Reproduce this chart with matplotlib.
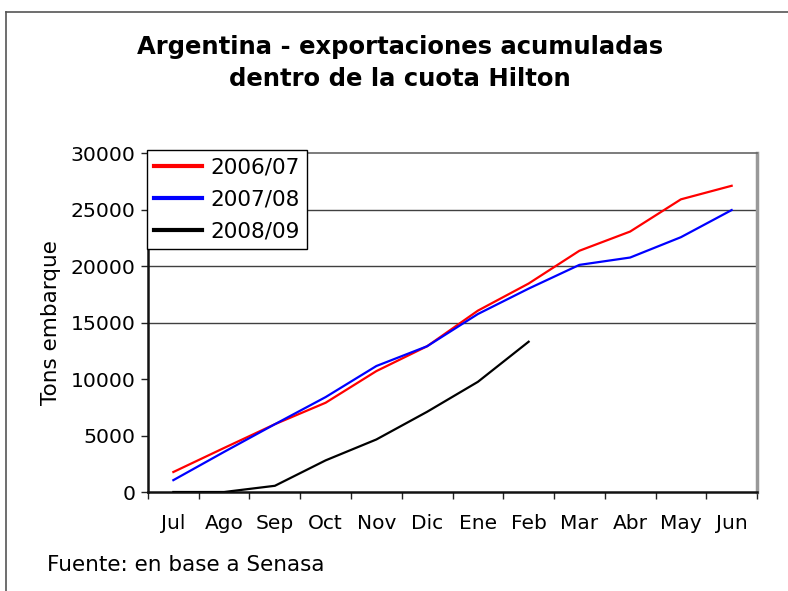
import numpy as np
import matplotlib.pyplot as plt
from matplotlib.lines import Line2D

months = ['Jul', 'Ago', 'Sep', 'Oct', 'Nov', 'Dic', 'Ene', 'Feb', 'Mar', 'Abr', 'May', 'Jun']
s0607 = [1770, 3900, 6000, 7900, 10700, 12900, 16050, 18450, 21350, 23050, 25900, 27100]
s0708 = [1050, 3550, 6000, 8400, 11150, 12900, 15750, 18000, 20100, 20750, 22550, 24950]
s0809 = [0, 0, 550, 2800, 4650, 7100, 9750, 13300]

fig = plt.figure(figsize=(7.88, 5.91), dpi=100)
ax = fig.add_axes([0.1878, 0.1675, 0.7729, 0.5736])

x = np.arange(len(months))
ax.plot(x, s0607, color='#ff0000', lw=1.6, label='2006/07', zorder=3)
ax.plot(x, s0708, color='#0000ff', lw=1.6, label='2007/08', zorder=3)
ax.plot(x[:len(s0809)], s0809, color='black', lw=1.6, label='2008/09', zorder=3)

ax.set_xlim(-0.5, len(months) - 0.5)
ax.set_ylim(0, 30000)
ax.set_yticks(range(0, 30001, 5000))
for g in [15000, 20000, 25000]:
    ax.axhline(g, color='#404040', lw=1, zorder=1)

ax.set_xticks(np.arange(-0.5, len(months)), labels=[''] * (len(months) + 1))
ax.set_xticks(x, labels=months, minor=True)
ax.tick_params(axis='x', which='minor', length=0, pad=16, labelsize=14.5)
ax.tick_params(axis='x', which='major', length=5, width=1, color='#222')
ax.tick_params(axis='y', length=5, width=1, color='#222', labelsize=14.7, pad=4)

ax.spines['left'].set_linewidth(1.8)
ax.spines['bottom'].set_linewidth(1.8)
ax.spines['left'].set_color('#111')
ax.spines['bottom'].set_color('#111')
ax.spines['right'].set_color('#999')
ax.spines['right'].set_linewidth(2.5)
ax.spines['top'].set_color('#666')
ax.spines['top'].set_linewidth(1.2)

ax.set_ylabel('Tons embarque', fontsize=15.5, labelpad=7)

leg = ax.legend(loc='upper left', bbox_to_anchor=(-0.002, 1.009), fontsize=15.5,
                frameon=True, fancybox=False, edgecolor='black', framealpha=1,
                borderpad=0.35, labelspacing=0.55, handlelength=2.2, handletextpad=0.4,
                borderaxespad=0)
leg.get_frame().set_linewidth(1)
for h in leg.get_lines():
    h.set_linewidth(3)

fig.text(0.508, 0.92, 'Argentina - exportaciones acumuladas', ha='center', va='center',
         fontsize=17.5, fontweight='bold')
fig.text(0.508, 0.867, 'dentro de la cuota Hilton', ha='center', va='center',
         fontsize=17.5, fontweight='bold')
fig.text(0.06, 0.044, 'Fuente: en base a Senasa', ha='left', va='center', fontsize=15.5)

fig.add_artist(Line2D([0.008, 0.008], [0, 0.98], transform=fig.transFigure, color='#555', lw=1.2))
fig.add_artist(Line2D([0.008, 1], [0.98, 0.98], transform=fig.transFigure, color='#555', lw=1.2))

fig.savefig('out.png', dpi=100)
